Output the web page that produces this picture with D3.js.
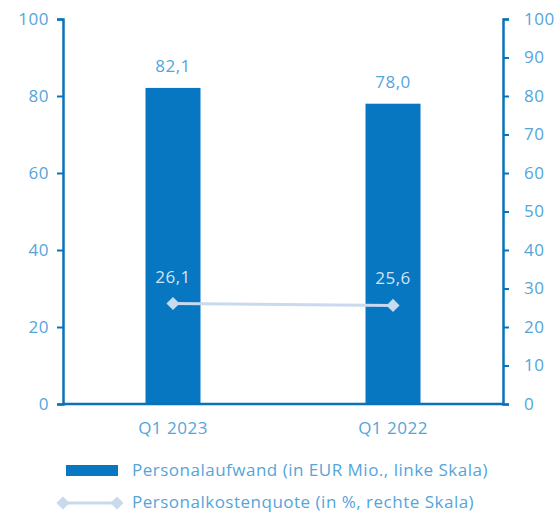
<!DOCTYPE html>
<html>
<head>
<meta charset="utf-8">
<script src="https://cdn.jsdelivr.net/npm/d3@7"></script>
<style>
  html, body { margin: 0; padding: 0; background: #fff; }
  svg { display: block; font-family: "Open Sans", sans-serif; letter-spacing: 0.5px; }
</style>
</head>
<body>
<div id="chart"></div>
<script>
  // chart data
  const categories = ["Q1 2023", "Q1 2022"];
  const personalaufwand = [82.1, 78.0];        // EUR Mio., left scale
  const personalkostenquote = [26.1, 25.6];    // %, right scale
  const leftTicks = [0, 20, 40, 60, 80, 100];
  const rightTicks = [0, 10, 20, 30, 40, 50, 60, 70, 80, 90, 100];
  const legendLabels = [
    "Personalaufwand (in EUR Mio., linke Skala)",
    "Personalkostenquote (in %, rechte Skala)"
  ];

  const width = 558, height = 514;
  const margin = { top: 19, right: 55, bottom: 110, left: 63 };
  const axisColor = "#0a72ba";
  const barColor = "#0777c1";
  const textColor = "#54a5db";
  const lineColor = "#c9d9ee";
  const fmt = v => v.toFixed(1).replace(".", ",");

  const svg = d3.select("#chart").append("svg")
    .attr("width", width)
    .attr("height", height);

  const x = d3.scaleBand()
    .domain(categories)
    .range([margin.left, width - margin.right])
    .paddingInner(0.75)
    .paddingOuter(0.375);

  const yL = d3.scaleLinear().domain([0, 100]).range([height - margin.bottom, margin.top]);
  const yR = d3.scaleLinear().domain([0, 100]).range([height - margin.bottom, margin.top]);

  // bars
  svg.selectAll(".bar")
    .data(personalaufwand)
    .join("rect")
    .attr("class", "bar")
    .attr("x", (d, i) => x(categories[i]))
    .attr("width", x.bandwidth())
    .attr("y", d => yL(d))
    .attr("height", d => yL(0) - yL(d))
    .attr("fill", barColor);

  svg.selectAll(".bar-label")
    .data(personalaufwand)
    .join("text")
    .attr("class", "bar-label")
    .attr("x", (d, i) => x(categories[i]) + x.bandwidth() / 2)
    .attr("y", d => yL(d) - 16)
    .attr("text-anchor", "middle")
    .attr("font-size", 17)
    .attr("fill", textColor)
    .text(fmt);

  // axes
  const axisL = svg.append("g")
    .attr("transform", `translate(${margin.left},0)`)
    .call(d3.axisLeft(yL).tickValues(leftTicks).tickSize(6).tickPadding(8));
  const axisR = svg.append("g")
    .attr("transform", `translate(${width - margin.right},0)`)
    .call(d3.axisRight(yR).tickValues(rightTicks).tickSize(6).tickPadding(15));
  const axisB = svg.append("g")
    .attr("transform", `translate(0,${yL(0)})`)
    .call(d3.axisBottom(x).tickSize(0).tickPadding(18));

  [axisL, axisR, axisB].forEach(g => {
    g.select(".domain").attr("stroke", axisColor).attr("stroke-width", 2.5);
    g.selectAll(".tick line").attr("stroke", axisColor).attr("stroke-width", 2);
    g.selectAll(".tick text")
      .attr("fill", textColor)
      .attr("font-size", 17)
      .attr("font-family", "Open Sans, sans-serif");
  });
  axisB.select(".domain").attr("d", `M${margin.left},0H${width - margin.right}`);

  // line on right scale
  const cx = (d, i) => x(categories[i]) + x.bandwidth() / 2;
  const line = d3.line().x((d, i) => cx(d, i)).y(d => yR(d));
  svg.append("path")
    .datum(personalkostenquote)
    .attr("d", line)
    .attr("fill", "none")
    .attr("stroke", lineColor)
    .attr("stroke-width", 3);

  const diamond = d3.symbol().type(d3.symbolDiamond2).size(110);
  svg.selectAll(".marker")
    .data(personalkostenquote)
    .join("path")
    .attr("class", "marker")
    .attr("d", diamond)
    .attr("transform", (d, i) => `translate(${cx(d, i)},${yR(d)})`)
    .attr("fill", lineColor);

  svg.selectAll(".line-label")
    .data(personalkostenquote)
    .join("text")
    .attr("class", "line-label")
    .attr("x", cx)
    .attr("y", d => yR(d) - 21)
    .attr("text-anchor", "middle")
    .attr("font-size", 17)
    .attr("fill", "#d3e4f4")
    .text(fmt);

  // legend
  const legend = svg.append("g");
  legend.append("rect")
    .attr("x", 66).attr("y", 465)
    .attr("width", 52).attr("height", 11)
    .attr("fill", barColor);
  legend.append("line")
    .attr("x1", 60).attr("x2", 120)
    .attr("y1", 503).attr("y2", 503)
    .attr("stroke", lineColor).attr("stroke-width", 3);
  [63, 117].forEach(px => {
    legend.append("path")
      .attr("d", diamond)
      .attr("transform", `translate(${px},503)`)
      .attr("fill", lineColor);
  });
  legend.selectAll(".legend-text")
    .data(legendLabels)
    .join("text")
    .attr("class", "legend-text")
    .attr("x", 132)
    .attr("y", (d, i) => 470 + i * 32)
    .attr("dy", "0.35em")
    .attr("font-size", 17)
    .attr("fill", textColor)
    .text(d => d);
</script>
</body>
</html>
